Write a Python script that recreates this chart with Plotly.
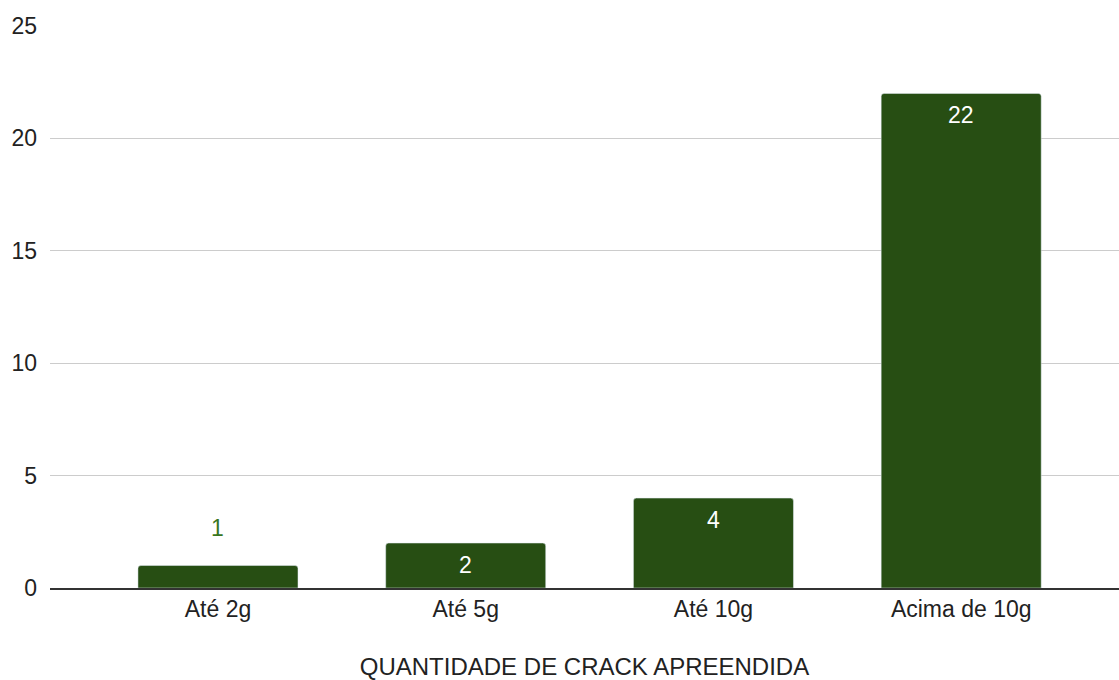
import plotly.graph_objects as go

categorias = ["Até 2g", "Até 5g", "Até 10g", "Acima de 10g"]
quantidades = [1, 2, 4, 22]
rotulo_dentro = [False, True, True, True]
y_ticks = [0, 5, 10, 15, 20, 25]

fonte = "Arial, Liberation Sans, sans-serif"
verde = "#274e13"

fig = go.Figure()
fig.add_trace(go.Bar(
    x=categorias,
    y=quantidades,
    marker=dict(color=verde, cornerradius=3),
    width=0.646,
    hoverinfo="x+y",
))

# rótulos de valor: dentro da barra (branco) ou acima (verde)
for cat, val, dentro in zip(categorias, quantidades, rotulo_dentro):
    fig.add_annotation(
        x=cat, y=val, text=str(val), showarrow=False,
        yshift=-22 if dentro else 38,
        font=dict(family=fonte, size=23, color="#ffffff" if dentro else "#38761d"),
    )

fig.update_layout(
    width=1119, height=680,
    margin=dict(l=50, r=0, t=26, b=92),
    plot_bgcolor="white", paper_bgcolor="white",
    font=dict(family=fonte, size=23, color="#222222"),
    showlegend=False,
)
fig.update_xaxes(
    range=[-0.678, 3.637],
    showline=True, linecolor="#333333", linewidth=1.5,
    showgrid=False, ticks="",
    title=dict(text="QUANTIDADE DE CRACK APREENDIDA", font=dict(size=24, color="#222222"), standoff=38),
)
fig.update_yaxes(
    range=[0, 25], tickvals=y_ticks,
    showgrid=True, gridcolor="#cccccc", gridwidth=1,
    zeroline=False, ticks="", ticklabelstandoff=12,
)

# tira a margem padrão do body para a figura ocupar a janela toda
fig.write_html(
    "out.html",
    config={"displayModeBar": False},
    post_script="document.body.style.margin='0';document.body.style.overflow='hidden';",
)
